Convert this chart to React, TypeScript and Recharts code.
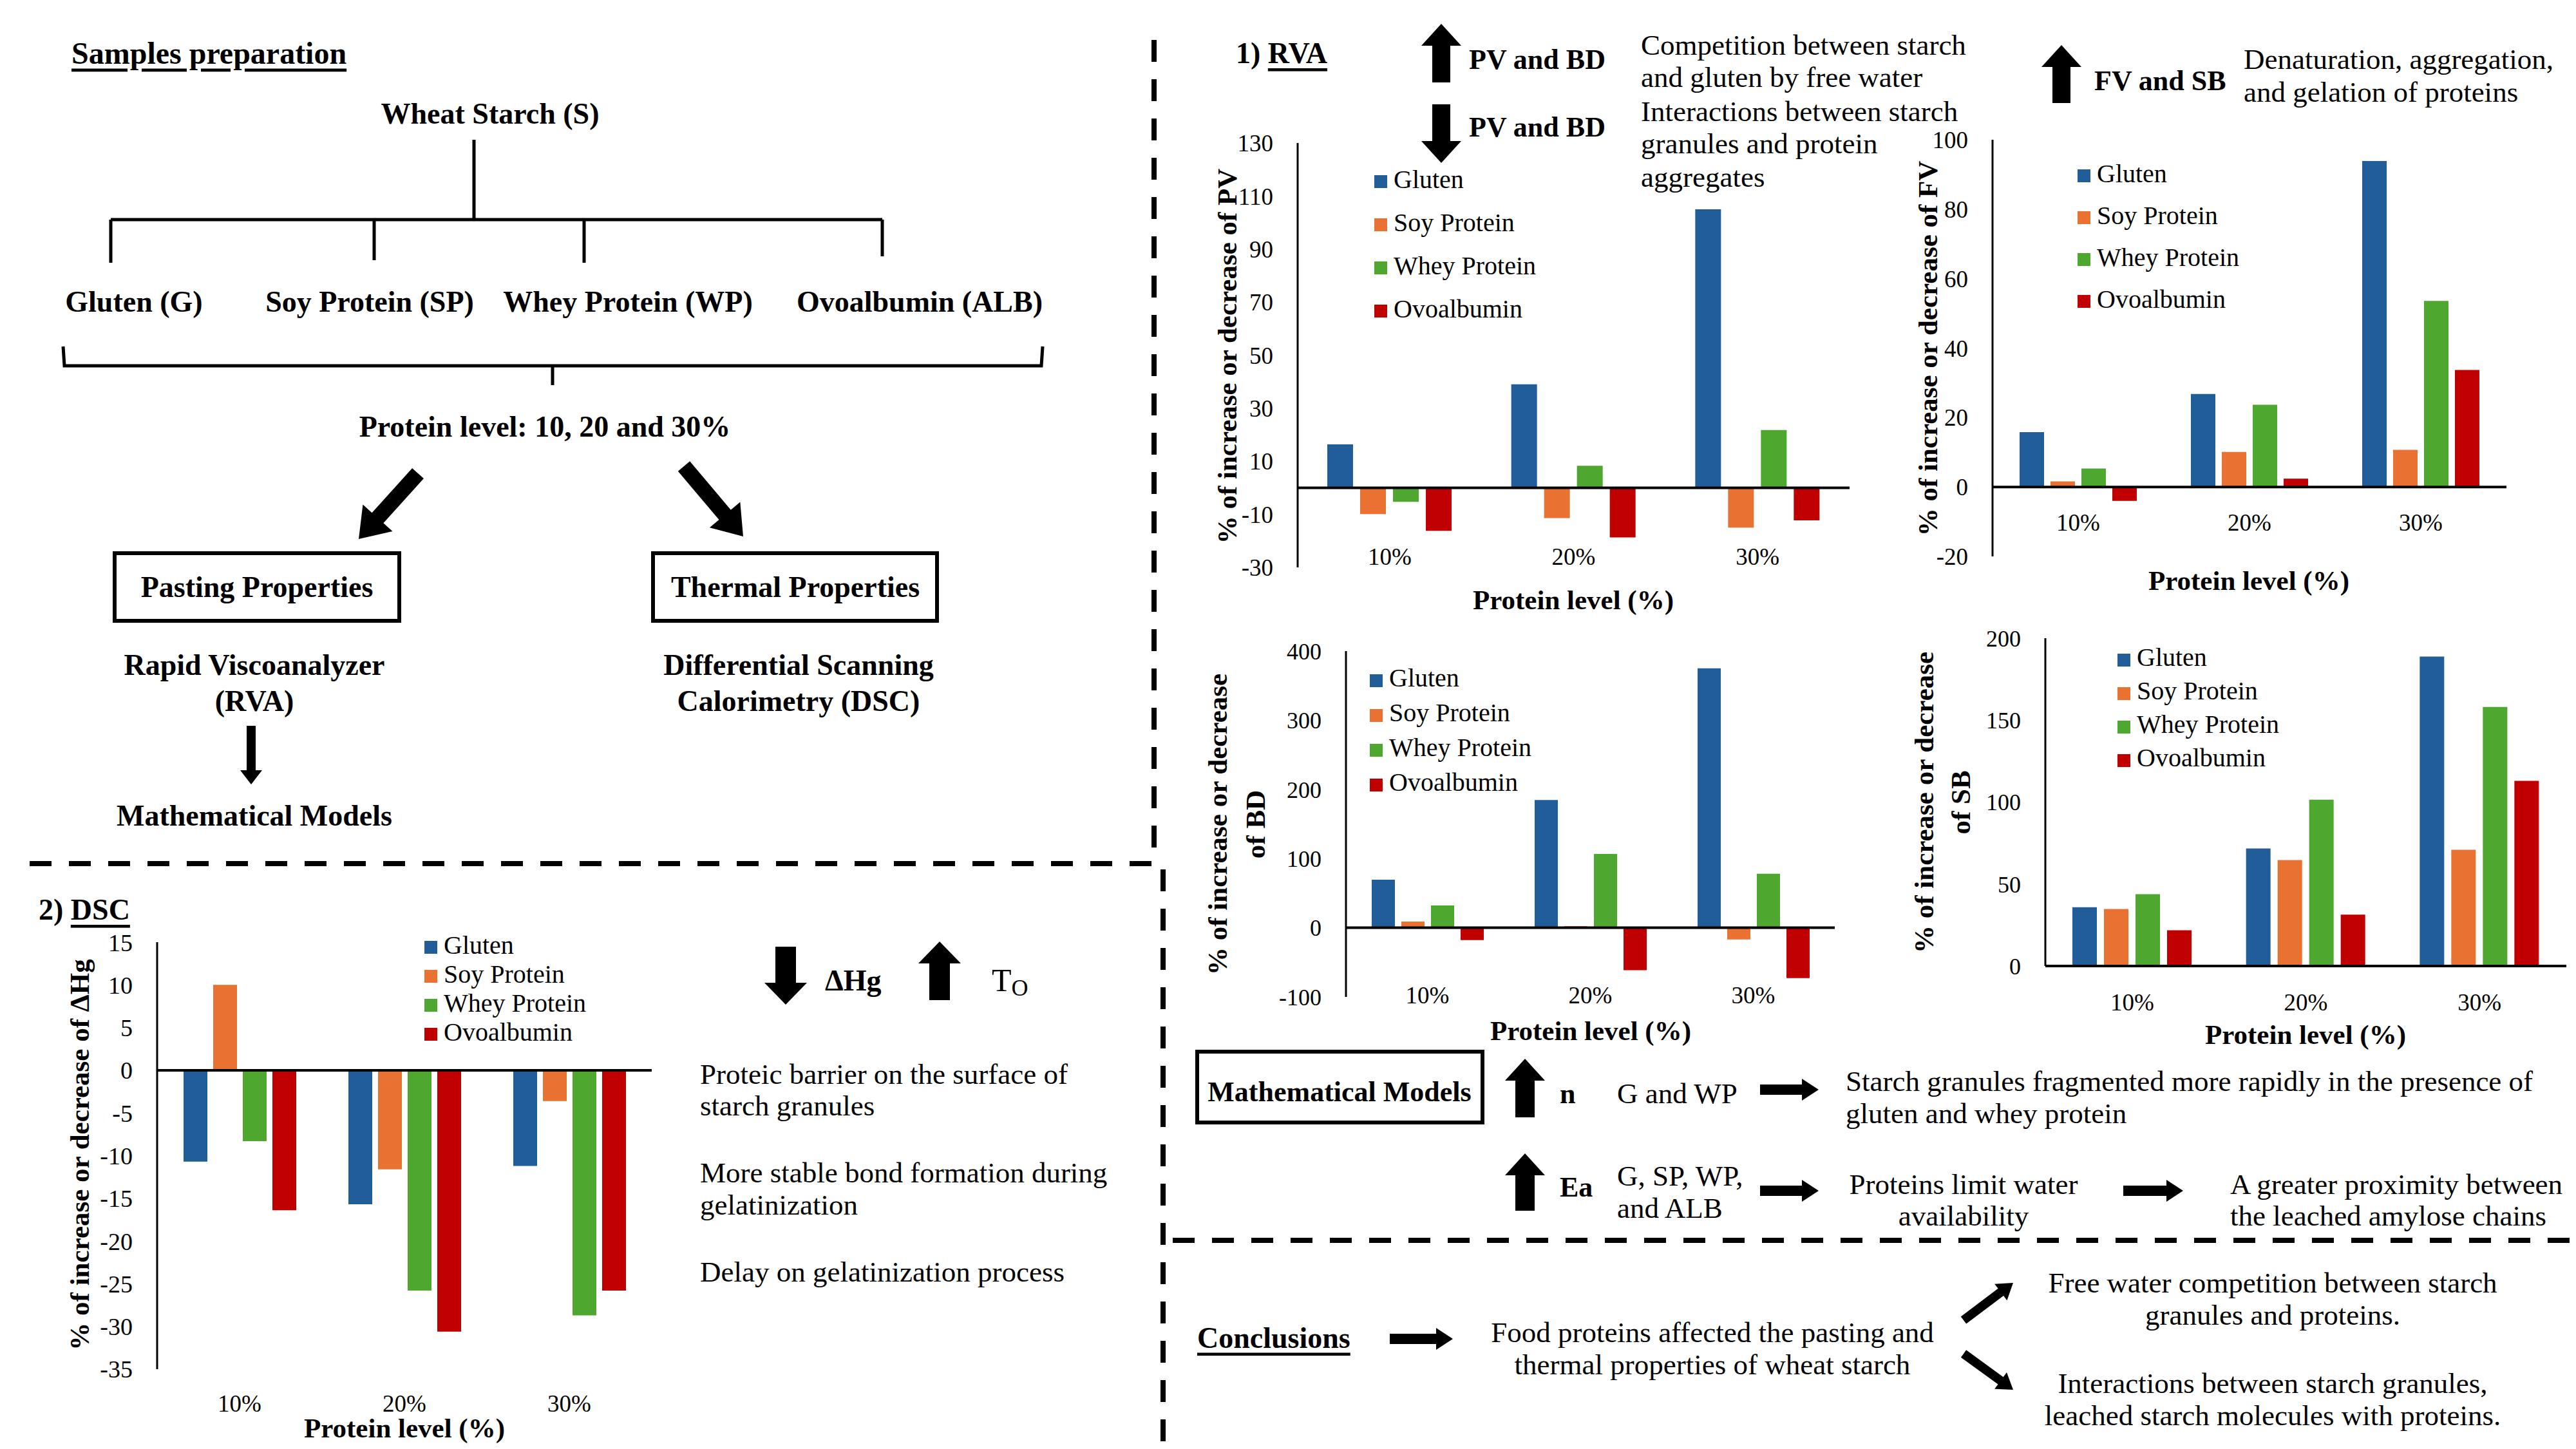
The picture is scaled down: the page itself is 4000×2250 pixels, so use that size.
import React from 'react';
import { BarChart, Bar, XAxis, YAxis, Legend, ReferenceLine } from 'recharts';

const LEVELS = ['10%', '20%', '30%'];
const PROTEINS = ['Gluten', 'Soy Protein', 'Whey Protein', 'Ovoalbumin'];
const COLORS = ['#215E99', '#E97132', '#4EA72E', '#C00000'];

// one row per protein (same order as PROTEINS), one value per protein level
const PV_VALUES = [
  [16.4, 39.0, 105.0],
  [-9.9, -11.4, -15.0],
  [-5.3, 8.3, 21.8],
  [-16.2, -18.7, -12.3],
];
const FV_VALUES = [
  [15.8, 26.8, 93.9],
  [1.6, 10.1, 10.7],
  [5.3, 23.7, 53.6],
  [-4.0, 2.4, 33.7],
];
const BD_VALUES = [
  [69.5, 184.6, 375.0],
  [8.9, 2.4, -17.0],
  [32.3, 106.7, 78.0],
  [-17.8, -61.4, -72.7],
];
const SB_VALUES = [
  [35.9, 71.7, 188.8],
  [34.8, 64.6, 70.9],
  [43.8, 101.5, 158.1],
  [21.8, 31.3, 113.0],
];
const DSC_VALUES = [
  [-10.7, -15.7, -11.2],
  [10.0, -11.6, -3.6],
  [-8.3, -25.8, -28.7],
  [-16.4, -30.6, -25.8],
];

const PV_TICKS = [-30, -10, 10, 30, 50, 70, 90, 110, 130];
const FV_TICKS = [-20, 0, 20, 40, 60, 80, 100];
const BD_TICKS = [-100, 0, 100, 200, 300, 400];
const SB_TICKS = [0, 50, 100, 150, 200];
const DSC_TICKS = [-35, -30, -25, -20, -15, -10, -5, 0, 5, 10, 15];

const FONT = '"Liberation Serif", "Times New Roman", serif';
const PAD_L = 200;
const PAD_T = 20;
const PAD_R = 10;
const PAD_B = 110;

const toRows = (values: number[][]) =>
  LEVELS.map((level, i) => {
    const row: Record<string, string | number> = { level };
    PROTEINS.forEach((p, s) => {
      row[p] = values[s][i];
    });
    return row;
  });

type ChartProps = {
  values: number[][];
  ticks: number[];
  box: [number, number, number, number];
  barSize: number;
  barGap: number;
  tickFont: number;
  catY: number;
  legendX: number;
  legendY: number;
  legendStep: number;
};

const ProteinChart = ({ values, ticks, box, barSize, barGap, tickFont, catY, legendX, legendY, legendStep }: ChartProps) => {
  const [x0, y0, x1, y1] = box;
  const left = x0 - PAD_L;
  const top = y0 - PAD_T;
  const width = x1 - x0 + PAD_L + PAD_R;
  const height = y1 - y0 + PAD_T + PAD_B;
  const catDy = catY - y1;
  return (
    <div style={{ position: 'absolute', left, top }}>
      <BarChart
        width={width}
        height={height}
        data={toRows(values)}
        margin={{ top: PAD_T, right: PAD_R, left: 0, bottom: 0 }}
        barSize={barSize}
        barGap={barGap}
      >
        <XAxis
          dataKey="level"
          height={PAD_B}
          axisLine={false}
          tickLine={false}
          tickSize={0}
          tickMargin={0}
          interval={0}
          tick={(p: any) => (
            <text x={p.x} y={p.y + catDy} textAnchor="middle" dominantBaseline="central" fontSize={37} fontFamily={FONT} fill="#000">
              {p.payload.value}
            </text>
          )}
        />
        <YAxis
          width={PAD_L}
          type="number"
          domain={[ticks[0], ticks[ticks.length - 1]]}
          ticks={ticks}
          interval={0}
          allowDataOverflow
          tickLine={false}
          tickSize={0}
          tickMargin={38}
          axisLine={{ stroke: '#000', strokeWidth: 3 }}
          tick={{ fill: '#000', fontSize: tickFont, fontFamily: FONT }}
        />
        <ReferenceLine y={0} stroke="#000" strokeWidth={4} />
        <Legend
          layout="vertical"
          align="center"
          verticalAlign="middle"
          iconType="square"
          iconSize={20}
          itemSorter={(item: any) => PROTEINS.indexOf(item.value)}
          wrapperStyle={{
            left: legendX - left,
            top: legendY - legendStep / 2 - top,
            lineHeight: `${legendStep}px`,
            fontSize: 40,
            fontFamily: FONT,
          }}
          formatter={(v: string) => <span style={{ color: '#000', marginLeft: 6 }}>{v}</span>}
        />
        {PROTEINS.map((p, s) => (
          <Bar key={p} dataKey={p} fill={COLORS[s]} isAnimationActive={false} />
        ))}
      </BarChart>
    </div>
  );
};

const T = ({ x, y, children, size = 45, bold = false, anchor = 'start', underline = false }: any) => (
  <text
    x={x}
    y={y}
    fontSize={size}
    fontWeight={bold ? 'bold' : 'normal'}
    textAnchor={anchor}
    dominantBaseline="central"
    style={underline ? { textDecoration: 'underline' } : undefined}
    fill="#000"
  >
    {children}
  </text>
);

const VTitle = ({ x, y, children }: any) => (
  <text
    transform={`translate(${x},${y}) rotate(-90)`}
    fontSize={43}
    fontWeight="bold"
    textAnchor="middle"
    dominantBaseline="central"
    fill="#000"
  >
    {children}
  </text>
);

// block arrow from (x1,y1) to (x2,y2)
const Arrow = ({ x1, y1, x2, y2, shaft = 28, head = 62, headLen = 34 }: any) => {
  const len = Math.hypot(x2 - x1, y2 - y1);
  const ux = (x2 - x1) / len;
  const uy = (y2 - y1) / len;
  const nx = -uy;
  const ny = ux;
  const bx = x2 - ux * headLen;
  const by = y2 - uy * headLen;
  const s = shaft / 2;
  const h = head / 2;
  const pts = [
    [x1 + nx * s, y1 + ny * s],
    [bx + nx * s, by + ny * s],
    [bx + nx * h, by + ny * h],
    [x2, y2],
    [bx - nx * h, by - ny * h],
    [bx - nx * s, by - ny * s],
    [x1 - nx * s, y1 - ny * s],
  ];
  return <polygon points={pts.map((p) => p.join(',')).join(' ')} fill="#000" />;
};

const Overlay = () => (
  <svg width={4000} height={2250} style={{ position: 'absolute', left: 0, top: 0, pointerEvents: 'none' }} fontFamily={FONT}>
    {/* dashed separators */}
    <g stroke="#000" strokeWidth={8} strokeDasharray="34 27" fill="none">
      <line x1={1792} y1={62} x2={1792} y2={1340} />
      <line x1={46} y1={1341} x2={1792} y2={1341} />
      <line x1={1806} y1={1350} x2={1806} y2={2250} />
      <line x1={1821} y1={1926} x2={3990} y2={1926} />
    </g>

    {/* samples preparation */}
    <T x={111} y={82} size={48} bold underline>Samples preparation</T>
    <T x={761} y={176} size={46} bold anchor="middle">Wheat Starch (S)</T>
    <g stroke="#000" strokeWidth={5} fill="none">
      <line x1={736} y1={217} x2={736} y2={341} />
      <line x1={172} y1={341} x2={1370} y2={341} />
      <line x1={172} y1={341} x2={172} y2={408} />
      <line x1={581} y1={341} x2={581} y2={404} />
      <line x1={907} y1={341} x2={907} y2={408} />
      <line x1={1370} y1={341} x2={1370} y2={398} />
      <polyline points="98,538 100,568 1617,568 1619,538" />
      <line x1={858} y1={568} x2={858} y2={598} />
      <rect x={178} y={859} width={442} height={105} strokeWidth={6} />
      <rect x={1014} y={859} width={441} height={105} strokeWidth={6} />
      <rect x={1859} y={1633} width={443} height={110} strokeWidth={6} />
    </g>
    <T x={208} y={468} size={46} bold anchor="middle">Gluten (G)</T>
    <T x={574} y={468} size={46} bold anchor="middle">Soy Protein (SP)</T>
    <T x={975} y={468} size={46} bold anchor="middle">Whey Protein (WP)</T>
    <T x={1428} y={468} size={46} bold anchor="middle">Ovoalbumin (ALB)</T>
    <T x={846} y={662} size={46} bold anchor="middle">Protein level: 10, 20 and 30%</T>
    <Arrow x1={649} y1={735} x2={557} y2={837} shaft={24} head={62} headLen={44} />
    <Arrow x1={1062} y1={724} x2={1154} y2={833} shaft={24} head={62} headLen={44} />
    <T x={399} y={911} size={46} bold anchor="middle">Pasting Properties</T>
    <T x={1235} y={911} size={46} bold anchor="middle">Thermal Properties</T>
    <T x={395} y={1032} size={46} bold anchor="middle">Rapid Viscoanalyzer</T>
    <T x={395} y={1088} size={46} bold anchor="middle">(RVA)</T>
    <T x={1240} y={1032} size={46} bold anchor="middle">Differential Scanning</T>
    <T x={1240} y={1088} size={46} bold anchor="middle">Calorimetry (DSC)</T>
    <Arrow x1={390} y1={1127} x2={390} y2={1218} shaft={14} head={34} headLen={22} />
    <T x={395} y={1266} size={46} bold anchor="middle">Mathematical Models</T>

    {/* RVA header */}
    <text x={1919} y={82} fontSize={46} fontWeight="bold" dominantBaseline="central">
      <tspan>1) </tspan>
      <tspan style={{ textDecoration: 'underline' }}>RVA</tspan>
    </text>
    <Arrow x1={2238} y1={128} x2={2238} y2={37} />
    <T x={2281} y={92} size={44} bold>PV and BD</T>
    <Arrow x1={2238} y1={162} x2={2238} y2={253} />
    <T x={2281} y={197} size={44} bold>PV and BD</T>
    <T x={2548} y={70}>Competition between starch</T>
    <T x={2548} y={120}>and gluten by free water</T>
    <T x={2548} y={173}>Interactions between starch</T>
    <T x={2548} y={223}>granules and protein</T>
    <T x={2548} y={275}>aggregates</T>
    <Arrow x1={3201} y1={160} x2={3201} y2={70} />
    <T x={3252} y={125} size={44} bold>FV and SB</T>
    <T x={3484} y={92}>Denaturation, aggregation,</T>
    <T x={3484} y={143}>and gelation of proteins</T>

    {/* chart axis titles */}
    <VTitle x={1905} y={553}>% of increase or decrease of PV</VTitle>
    <T x={2443} y={931} size={43} bold anchor="middle">Protein level (%)</T>
    <VTitle x={2993} y={541}>% of increase or decrease of FV</VTitle>
    <T x={3492} y={901} size={43} bold anchor="middle">Protein level (%)</T>
    <VTitle x={1890} y={1280}>% of increase or decrease</VTitle>
    <VTitle x={1949} y={1280}>of BD</VTitle>
    <T x={2470} y={1600} size={43} bold anchor="middle">Protein level (%)</T>
    <VTitle x={2987} y={1246}>% of increase or decrease</VTitle>
    <VTitle x={3044} y={1246}>of SB</VTitle>
    <T x={3580} y={1606} size={43} bold anchor="middle">Protein level (%)</T>
    <VTitle x={123} y={1793}>% of increase or decrease of ΔHg</VTitle>
    <T x={628} y={2217} size={43} bold anchor="middle">Protein level (%)</T>

    {/* DSC */}
    <text x={60} y={1412} fontSize={46} fontWeight="bold" dominantBaseline="central">
      <tspan>2) </tspan>
      <tspan style={{ textDecoration: 'underline' }}>DSC</tspan>
    </text>
    <Arrow x1={1220} y1={1470} x2={1220} y2={1560} shaft={32} head={66} headLen={34} />
    <T x={1281} y={1522} size={46} bold>ΔHg</T>
    <Arrow x1={1459} y1={1553} x2={1459} y2={1462} shaft={32} head={66} headLen={34} />
    <text x={1540} y={1522} fontSize={50} dominantBaseline="central">
      T<tspan fontSize={36} dy={12}>O</tspan>
    </text>
    <T x={1087} y={1668}>Proteic barrier on the surface of</T>
    <T x={1087} y={1717}>starch granules</T>
    <T x={1087} y={1821}>More stable bond formation during</T>
    <T x={1087} y={1871}>gelatinization</T>
    <T x={1087} y={1975}>Delay on gelatinization process</T>

    {/* mathematical models */}
    <T x={2080} y={1695} size={44} bold anchor="middle">Mathematical Models</T>
    <Arrow x1={2368} y1={1735} x2={2368} y2={1644} shaft={30} head={62} headLen={34} />
    <T x={2422} y={1698} size={44} bold>n</T>
    <T x={2511} y={1698}>G and WP</T>
    <Arrow x1={2733} y1={1692} x2={2824} y2={1692} shaft={16} head={34} headLen={26} />
    <T x={2866} y={1679}>Starch granules fragmented more rapidly in the presence of</T>
    <T x={2866} y={1729}>gluten and whey protein</T>
    <Arrow x1={2368} y1={1880} x2={2368} y2={1791} shaft={30} head={62} headLen={34} />
    <T x={2422} y={1843} size={44} bold>Ea</T>
    <T x={2511} y={1826}>G, SP, WP,</T>
    <T x={2511} y={1876}>and ALB</T>
    <Arrow x1={2733} y1={1849} x2={2824} y2={1849} shaft={16} head={34} headLen={26} />
    <T x={3049} y={1839} anchor="middle">Proteins limit water</T>
    <T x={3049} y={1888} anchor="middle">availability</T>
    <Arrow x1={3297} y1={1849} x2={3390} y2={1849} shaft={16} head={34} headLen={26} />
    <T x={3463} y={1839}>A greater proximity between</T>
    <T x={3463} y={1888}>the leached amylose chains</T>

    {/* conclusions */}
    <T x={1859} y={2077} size={46} bold underline>Conclusions</T>
    <Arrow x1={2158} y1={2079} x2={2256} y2={2079} shaft={16} head={34} headLen={26} />
    <T x={2659} y={2069} anchor="middle">Food proteins affected the pasting and</T>
    <T x={2659} y={2119} anchor="middle">thermal properties of wheat starch</T>
    <Arrow x1={3049} y1={2050} x2={3126} y2={1992} shaft={14} head={32} headLen={24} />
    <Arrow x1={3049} y1={2102} x2={3126} y2={2158} shaft={14} head={32} headLen={24} />
    <T x={3529} y={1992} anchor="middle">Free water competition between starch</T>
    <T x={3529} y={2042} anchor="middle">granules and proteins.</T>
    <T x={3529} y={2148} anchor="middle">Interactions between starch granules,</T>
    <T x={3529} y={2198} anchor="middle">leached starch molecules with proteins.</T>
  </svg>
);

const App = () => (
  <div
    style={{
      position: 'absolute',
      left: 0,
      top: 0,
      width: 4000,
      height: 2250,
      overflow: 'hidden',
      background: '#fff',
      fontFamily: FONT,
    }}
  >
    <ProteinChart values={PV_VALUES} ticks={PV_TICKS} box={[2015, 222, 2872, 881]} barSize={40} barGap={11} tickFont={37} catY={864} legendX={2134} legendY={278} legendStep={67} />
    <ProteinChart values={FV_VALUES} ticks={FV_TICKS} box={[3094, 217, 3892, 864]} barSize={38} barGap={10} tickFont={37} catY={811} legendX={3226} legendY={269} legendStep={65} />
    <ProteinChart values={BD_VALUES} ticks={BD_TICKS} box={[2090, 1011, 2849, 1548]} barSize={36} barGap={10} tickFont={36} catY={1545} legendX={2127} legendY={1053} legendStep={54} />
    <ProteinChart values={SB_VALUES} ticks={SB_TICKS} box={[3176, 991, 3985, 1500]} barSize={38} barGap={11} tickFont={36} catY={1556} legendX={3288} legendY={1021} legendStep={52} />
    <ProteinChart values={DSC_VALUES} ticks={DSC_TICKS} box={[244, 1463, 1012, 2126]} barSize={37} barGap={9} tickFont={38} catY={2179} legendX={659} legendY={1467} legendStep={45} />
    <Overlay />
  </div>
);

export default App;
